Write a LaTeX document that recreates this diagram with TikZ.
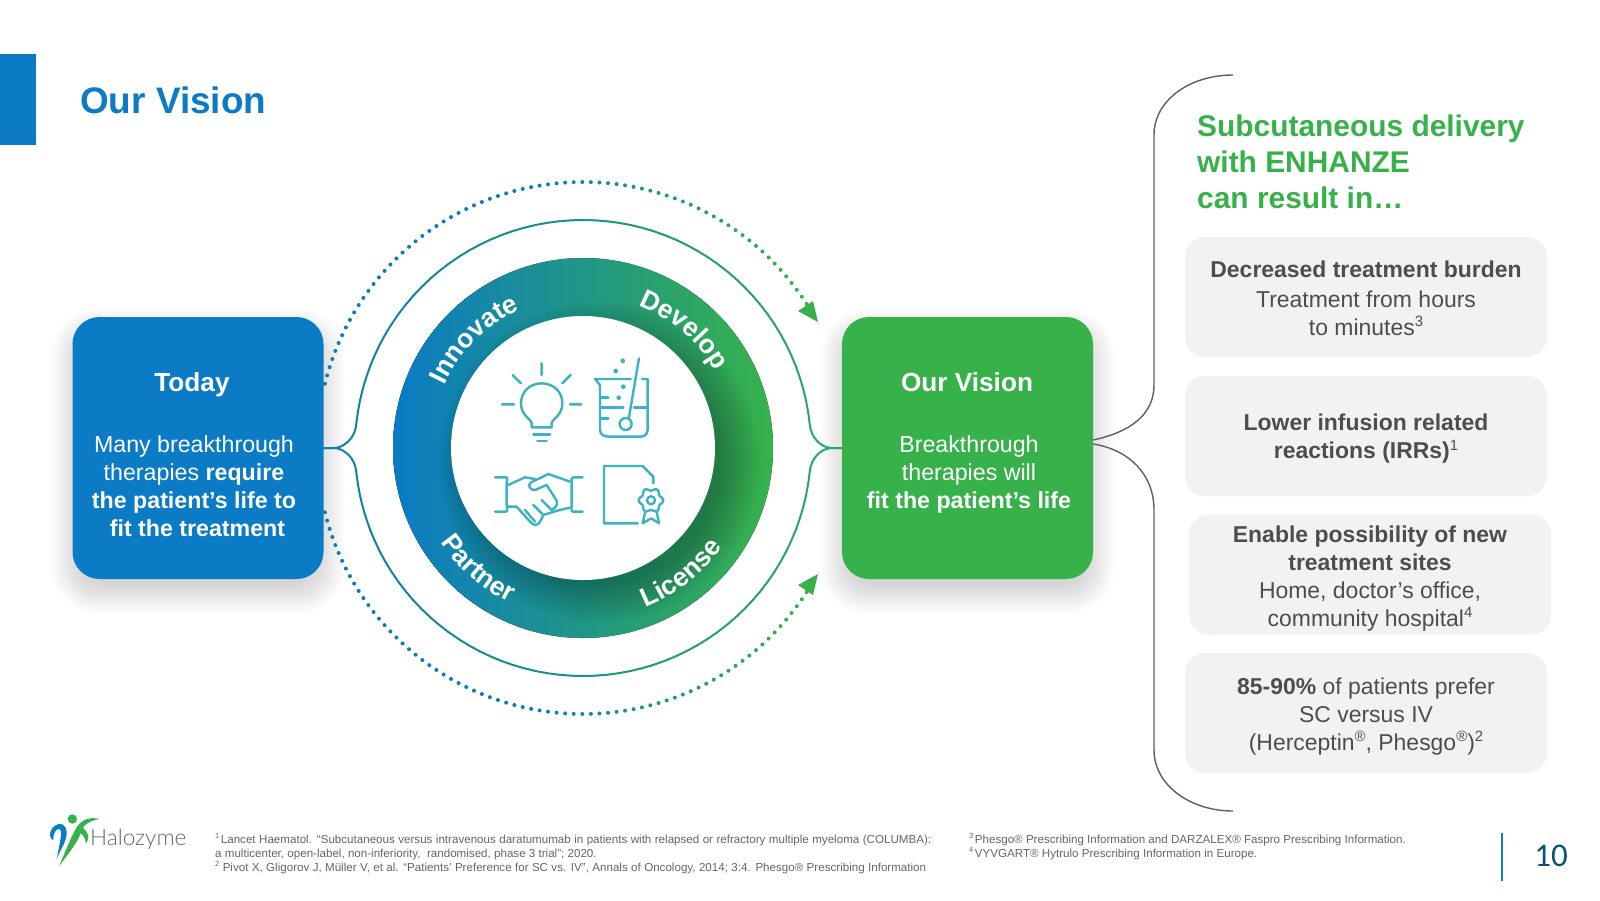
\documentclass[tikz,border=0pt]{standalone}
\usepackage{fontspec}
\setmainfont{Liberation Sans}
\newfontfamily\logofont{Lato Light}
\newfontfamily\pagefont{Carlito}
\usetikzlibrary{decorations.text}
\definecolor{hblue}{HTML}{0A7BC4}
\definecolor{hgreen}{HTML}{37B24A}
\definecolor{hteal}{HTML}{1C9A92}
\definecolor{lineL}{HTML}{0F82A6}
\definecolor{lineR}{HTML}{2BA768}
\definecolor{icon}{HTML}{3BB3C3}
\definecolor{boxgray}{HTML}{F2F2F2}
\definecolor{txtgray}{HTML}{4D4D4D}
\definecolor{fngray}{HTML}{666666}
\definecolor{pagecol}{HTML}{0B5275}
\newcommand\fsz[2]{\fontsize{#1pt}{#2pt}\selectfont}
\newcommand\supr[1]{\raisebox{0.38em}{\scalebox{0.65}{#1}}}
\newcommand\curvefont{\fsz{26.5}{30}\bfseries\color{white}}
\tikzset{
  mainbox/.style={rounded corners=27pt,minimum width=251pt,minimum height=262pt,inner sep=0pt},
  boxtext/.style={align=center,text=white,inner sep=0pt,font=\fsz{23.2}{28}},
  boxtitle/.style={anchor=base,text=white,inner sep=0pt,font=\fsz{26.2}{30}\bfseries},
  graybox/.style={rounded corners=20pt,fill=boxgray,minimum width=362pt,minimum height=120pt,inner sep=0pt},
  graytext/.style={inner sep=0pt,align=center,text=txtgray,font=\fsz{22.95}{28}},
  fnline/.style={anchor=base west,inner sep=0pt,text=fngray,font=\fsz{11.6}{14}},
  bracel/.style={draw=txtgray!90,line width=1.4pt},
  thin arc/.style={line width=2pt,line cap=round},
  ic/.style={draw=icon,line width=2.4pt,line cap=round,line join=round},
  ringtext/.style={decorate,decoration={text along path,text align=center,text={#1}}}
}
\begin{document}
\begin{tikzpicture}[x=1pt,y=-1pt]
\useasboundingbox (0,0) rectangle (1600,900);
\fill[white] (0,0) rectangle (1600,900);
% header
\fill[hblue] (0,54) rectangle (36,145);
\node[anchor=base west,inner sep=0pt,text=hblue,font=\fsz{36.9}{40}\bfseries] (title) at (80,113) {Our Vision};
% shadows of the two main boxes
\foreach \bx in {72.5,842}{
  \foreach \e in {22,20.5,...,-8}{
    \fill[black,opacity=0.009,rounded corners={(27+max(\e,0))*1pt}]
      ({\bx-\e},{317+13-\e}) rectangle ({\bx+251+\e},{579+13+\e});
  }
}
% dotted arcs
\foreach \s in {1,-1}{
  \foreach \a in {166,164.15,...,32}{
    \pgfmathsetmacro\px{583+266*cos(\a)}
    \pgfmathsetmacro\py{448-\s*266*sin(\a)}
    \pgfmathtruncatemacro\pct{max(0,min(100,(\px-520)/(800-520)*100))}
    \fill[hgreen!\pct!hblue] (\px,\py) circle[radius=2pt];
  }
}
\fill[hgreen] (818,322) -- (798,311) -- (813,301) -- cycle;
\fill[hgreen] (818,574) -- (798,585) -- (813,595) -- cycle;
% boxes
\node[mainbox,fill=hblue] (today) at (198,448) {};
\node[mainbox,fill=hgreen] (vision) at (967.5,448) {};
\node[boxtitle] (todayT) at (192,391) {Today};
\node[boxtext] (todayB) at (194,486) {Many breakthrough\\therapies \textbf{require}\\\textbf{the patient’s life to}\\\hspace{7pt}\textbf{fit the treatment}};
\node[boxtitle] (visionT) at (967,391) {Our Vision};
\node[boxtext] (visionB) at (969,474) {Breakthrough\\therapies will\\\textbf{fit the patient’s life}};
% thin arcs
\foreach \s in {1,-1}{
  \foreach \a in {174,171,...,9}{
    \pgfmathsetmacro\xa{583+228*cos(\a)}
    \pgfmathsetmacro\ya{448-\s*228*sin(\a)}
    \pgfmathsetmacro\xb{583+228*cos(\a-3)}
    \pgfmathsetmacro\yb{448-\s*228*sin(\a-3)}
    \pgfmathtruncatemacro\pct{max(0,min(100,(\xa-355)/(811-355)*100))}
    \draw[thin arc,lineR!\pct!lineL] (\xa,\ya) -- (\xb,\yb);
  }
  \draw[thin arc,lineL] (today.east) -- ++(10,0) .. controls +(10,0) and +(-1,{\s*14}) .. ({583-228*cos(6)},{448-\s*228*sin(6)});
  \draw[thin arc,lineR] (vision.west) -- ++(-10,0) .. controls +(-10,0) and +(1,{\s*14}) .. ({583+228*cos(6)},{448-\s*228*sin(6)});
}
% ring
\coordinate (c) at (583,448);
\fill[left color=hblue,middle color=hteal,right color=hgreen] (c) circle[radius=190pt];
\foreach \r in {122,125,...,161}{
  \fill[black,opacity=0.02] (599,462) circle[radius=\r pt];
}
\fill[white] (c) circle[radius=132pt];
\path[ringtext={|\curvefont|Innovate}] plot[domain=165:105,samples=40] ({583+152*cos(\x)},{448-152*sin(\x)});
\path[ringtext={|\curvefont|Develop}] plot[domain=79.5:19.5,samples=40] ({583+153*cos(\x)},{448-153*sin(\x)});
\path[ringtext={|\curvefont|Partner}] plot[domain=199:259,samples=40] ({583+171*cos(\x)},{448-171*sin(\x)});
\path[ringtext={|\curvefont|License}] plot[domain=-82:-22,samples=40] ({583+171*cos(\x)},{448-171*sin(\x)});
% icons (coordinates in 1/3 px)
\begin{scope}[shift={(480,340)},x=0.3333pt,y=-0.3333pt]
  % bulb
  \draw[ic] (155,262) -- (155,248) .. controls (150,235) and (123,225) .. (123,190) .. controls (123,155) and (150,130) .. (185,130) .. controls (220,130) and (247,155) .. (247,190) .. controls (247,225) and (220,235) .. (215,248) -- (215,262) -- cycle;
  \draw[ic] (160,284) -- (210,284) (172,303) -- (200,303);
  \draw[ic] (185,70) -- (185,105) (98,105) -- (123,130) (272,105) -- (247,130) (66,193) -- (102,193) (270,193) -- (304,193);
  % beaker
  \draw[ic] (452,117) -- (345,117) -- (360,135) -- (360,268) .. controls (360,282) and (370,290) .. (385,290) -- (480,290) .. controls (495,290) and (503,282) .. (503,268) -- (503,117) -- (486,117);
  \draw[ic] (360,172) -- (385,172) (360,203) -- (430,203) (462,203) -- (503,203) (360,235) -- (385,235);
  \draw[ic] (477,55) -- (447,232);
  \draw[ic] (437,252) circle[radius=18];
  \fill[icon] (428,62) circle[radius=7] (407,93) circle[radius=7] (430,140) circle[radius=7] (416,173) circle[radius=7];
  % handshake
  \draw[ic] (45,412) -- (78,412) .. controls (85,412) and (80,420) .. (80,428) -- (80,495) .. controls (80,505) and (85,515) .. (78,515) -- (45,515);
  \draw[ic] (308,412) -- (280,412) .. controls (272,412) and (275,420) .. (275,428) -- (275,495) .. controls (275,505) and (272,515) .. (280,515) -- (308,515);
  \draw[ic] (85,435) -- (135,412) -- (165,417);
  \draw[ic] (270,425) -- (205,402) -- (152,428) .. controls (142,435) and (150,452) .. (165,450) -- (200,435) -- (230,482) .. controls (235,495) and (225,505) .. (215,510);
  \draw[ic] (85,500) -- (110,500) -- (150,545) .. controls (160,558) and (175,558) .. (180,545) -- (190,525) -- (232,512) -- (270,503);
  \draw[ic] (135,510) -- (165,545) (160,495) -- (190,525) (185,480) -- (215,510);
  % document
  \draw[ic] (473,550) -- (372,550) -- (372,378) -- (488,378) -- (520,410) -- (520,430);
  \draw[ic] plot[domain=0:360,samples=73,smooth cycle] ({513+(33+4*cos(6*\x))*cos(\x)},{481+(33+4*cos(6*\x))*sin(\x)});
  \draw[ic] (513,481) circle[radius=12];
  \draw[ic] (496,514) -- (488,550) -- (513,535) -- (537,550) -- (530,514);
\end{scope}
% right brace
\draw[bracel] ([yshift=8pt]vision.east) .. controls (1130,432) and (1154,415) .. (1154,385) -- (1154,135) .. controls (1154,100) and (1190,75) .. (1233,75);
\draw[bracel] ([yshift=4pt]vision.east) .. controls (1130,450) and (1154,475) .. (1154,510) -- (1154,750) .. controls (1154,785) and (1190,811) .. (1233,811);
% green heading
\node[anchor=north west,inner sep=0pt,align=left,text=hgreen,font=\fsz{29.9}{36}\bfseries] (head) at (1197,115) {Subcutaneous delivery\\with ENHANZE\\can result in…};
% grey boxes
\node[graybox] (b1) at (1366,297) {};
\node[graybox] (b2) at (1366,436) {};
\node[graybox] (b3) at (1370,574.5) {};
\node[graybox] (b4) at (1366,713) {};
\node[graytext] (t1) at (1366,298) {\textbf{Decreased treatment burden}\\[2pt]Treatment from hours\\to minutes\supr{3}};
\node[graytext] (t2) at (1366,439) {\textbf{Lower infusion related}\\\textbf{reactions (IRRs)}\supr{1}};
\node[graytext] (t3) at (1370,578.5) {\textbf{Enable possibility of new}\\\textbf{treatment sites}\\Home, doctor’s office,\\community hospital\supr{4}};
\node[graytext] (t4) at (1366,716.5) {\textbf{85-90\%} of patients prefer\\SC versus IV\\(Herceptin\supr{®}, Phesgo\supr{®})\supr{2}};
% logo (coordinates in 1/3 px)
\begin{scope}[shift={(40,805)},x=0.3333pt,y=-0.3333pt]
  \fill[hgreen] (97,42) circle[radius=14];
  \fill[hblue] (50,165) .. controls (58,135) and (82,110) .. (80,80) .. controls (78,58) and (60,50) .. (45,62) .. controls (30,72) and (22,95) .. (40,106) .. controls (38,90) and (48,68) .. (58,72) .. controls (70,78) and (58,115) .. (50,165) -- cycle;
  \fill[hgreen] (178,42) .. controls (150,35) and (125,42) .. (108,70) .. controls (92,100) and (75,140) .. (58,183) .. controls (85,145) and (108,120) .. (122,85) .. controls (130,90) and (135,100) .. (138,115) .. controls (150,100) and (148,85) .. (128,68) .. controls (140,52) and (160,45) .. (178,42) -- cycle;
\end{scope}
\node[anchor=base west,inner sep=0pt,text=fngray,font=\logofont\fsz{22.6}{28}] (logo) at (90,845) {Halozyme};
% footnotes
\node[fnline] (f1) at (215,843) {\makebox[716pt][s]{\supr{1}\hspace{1.5pt}Lancet Haematol. “Subcutaneous versus intravenous daratumumab in patients with relapsed or refractory multiple myeloma (COLUMBA):}};
\node[fnline] (f2) at (215,857) {a multicenter, open-label, non-inferiority,\ \ randomised, phase 3 trial”; 2020.};
\node[fnline] (f3) at (215,871) {\makebox[711pt][s]{\supr{2} Pivot X, Gligorov J, Müller V, et al. “Patients’ Preference for SC vs. IV”, Annals of Oncology, 2014; 3:4. Phesgo® Prescribing Information}};
\node[fnline] (f4) at (969,843) {\supr{3}\hspace{1.5pt}Phesgo® Prescribing Information and DARZALEX® Faspro Prescribing Information.};
\node[fnline] (f5) at (969,857) {\supr{4}\hspace{1.5pt}VYVGART® Hytrulo Prescribing Information in Europe.};
% page number
\draw[line width=1.5pt,draw=lineL] (1502,833) -- (1502,881);
\node[anchor=base,inner sep=0pt,text=pagecol,font=\pagefont\fsz{33}{34}] (pg) at (1551,866) {10};
\end{tikzpicture}
\end{document}
